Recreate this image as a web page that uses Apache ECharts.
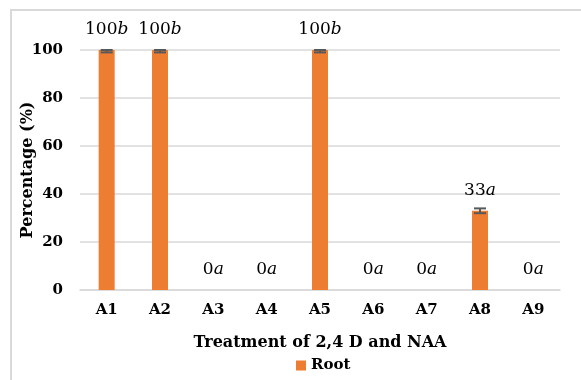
<!DOCTYPE html>
<html>
<head>
<meta charset="utf-8">
<script src="https://cdn.jsdelivr.net/npm/echarts@6/dist/echarts.min.js"></script>
<style>
  html, body { margin: 0; padding: 0; background: #fff; }
  #chart { width: 581px; height: 380px; }
</style>
</head>
<body>
<div id="chart"></div>
<script>
// Rooting percentage per treatment
const categories = ['A1', 'A2', 'A3', 'A4', 'A5', 'A6', 'A7', 'A8', 'A9'];
const rootValues = [100, 100, 0, 0, 100, 0, 0, 33, 0];
const rootErrors = [1, 1, 0, 0, 1, 0, 0, 1, 0];
const letters = ['b', 'b', 'a', 'a', 'b', 'a', 'a', 'a', 'a'];
const yTicks = [0, 20, 40, 60, 80, 100];

const serif = '"DejaVu Serif", "Liberation Serif", serif';
const chart = echarts.init(document.getElementById('chart'));

chart.setOption({
  animation: false,
  backgroundColor: '#ffffff',
  graphic: [{
    type: 'rect',
    shape: { x: 11, y: 10, width: 600, height: 400 },
    style: { fill: 'none', stroke: '#d9d9d9', lineWidth: 2 },
    silent: true
  }],
  grid: { left: 80, right: 21, top: 50, bottom: 90 },
  legend: {
    top: 353,
    left: 291,
    data: ['Root'],
    itemWidth: 10,
    itemHeight: 10,
    itemGap: 4,
    icon: 'rect',
    textStyle: { fontFamily: serif, fontWeight: 'bold', fontSize: 15, color: '#000' }
  },
  xAxis: {
    type: 'category',
    data: categories,
    name: 'Treatment of 2,4 D and NAA',
    nameLocation: 'middle',
    nameGap: 45,
    nameMoveOverlap: false,
    nameTextStyle: { fontFamily: serif, fontWeight: 'bold', fontSize: 16, color: '#000' },
    axisLine: { lineStyle: { color: '#d9d9d9', width: 1.5 } },
    axisTick: { show: false },
    axisLabel: { fontFamily: serif, fontWeight: 'bold', fontSize: 15, color: '#000', margin: 13 }
  },
  yAxis: {
    type: 'value',
    min: 0,
    max: 100,
    interval: 20,
    name: 'Percentage (%)',
    nameLocation: 'middle',
    nameGap: 44,
    nameMoveOverlap: false,
    nameTextStyle: { fontFamily: serif, fontWeight: 'bold', fontSize: 16, color: '#000' },
    axisLine: { show: false },
    axisTick: { show: false },
    splitLine: { lineStyle: { color: '#d9d9d9', width: 1.5 } },
    axisLabel: {
      fontFamily: serif, fontWeight: 'bold', fontSize: 15, color: '#000', margin: 17,
      formatter: v => (yTicks.includes(v) ? String(v) : '')
    }
  },
  series: [
    {
      name: 'Root',
      type: 'bar',
      data: rootValues,
      barWidth: 16,
      itemStyle: { color: '#ed7d31' },
      label: {
        show: true,
        position: 'top',
        distance: 12,
        formatter: p => '{n|' + rootValues[p.dataIndex] + '}{l|' + letters[p.dataIndex] + '}',
        rich: {
          n: { fontFamily: serif, fontSize: 17, color: '#000' },
          l: { fontFamily: serif, fontSize: 17, fontStyle: 'italic', color: '#000' }
        }
      },
      z: 2
    },
    {
      name: 'error',
      type: 'custom',
      data: rootValues.map((v, i) => [i, v - rootErrors[i], v + rootErrors[i], rootErrors[i]]),
      renderItem: (params, api) => {
        if (api.value(3) <= 0) return null;
        const lo = api.coord([api.value(0), api.value(1)]);
        const hi = api.coord([api.value(0), Math.min(api.value(2), 100)]);
        const half = 6;
        const style = { stroke: '#595959', lineWidth: 2 };
        return {
          type: 'group',
          children: [
            { type: 'line', shape: { x1: lo[0], y1: lo[1], x2: lo[0], y2: hi[1] }, style },
            { type: 'line', shape: { x1: lo[0] - half, y1: lo[1], x2: lo[0] + half, y2: lo[1] }, style },
            { type: 'line', shape: { x1: hi[0] - half, y1: hi[1], x2: hi[0] + half, y2: hi[1] }, style }
          ]
        };
      },
      z: 3,
      silent: true
    }
  ]
});
</script>
</body>
</html>
